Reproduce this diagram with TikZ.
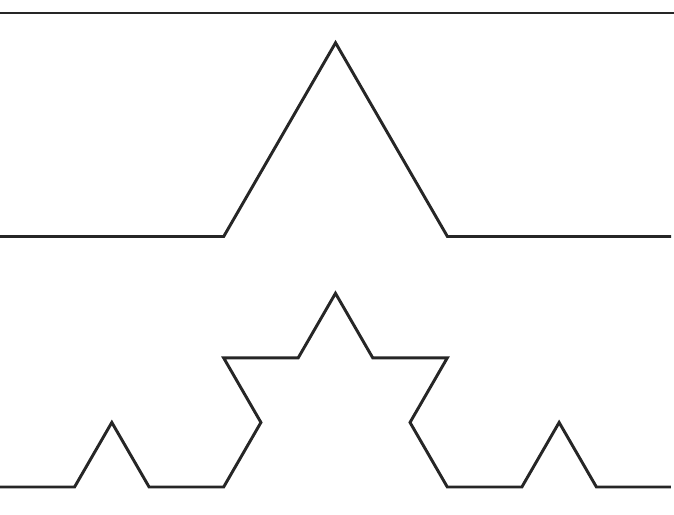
\documentclass[tikz,border=0pt]{standalone}
\usepackage{tikz}

\begin{document}
\begin{tikzpicture}[
  x=0.75pt, y=0.75pt,
  curve/.style = {line width=2.2pt, black!85, line join=miter},
]
\useasboundingbox (0,0) rectangle (674,514);

% Row y-positions
\def\yA{501}    % order 0
\def\yB{277.5}  % order 1
\def\yC{27}     % order 2

% Segment lengths
\def\sB{223.7}  % order 1 step
\def\sC{74.55}  % order 2 step

% ── ORDER 0 ─────────────────────────────────────────────
\coordinate (K0s) at (0,\yA);
\coordinate (K0e) at (674,\yA);
\draw[curve] (K0s) -- (K0e);

% ── ORDER 1 ─────────────────────────────────────────────
\coordinate (K1s) at (0,\yB);
\draw[curve] (K1s)
  \foreach \a in {0,60,-60,0} { -- ++(\a:\sB) };

% ── ORDER 2 ─────────────────────────────────────────────
\coordinate (K2s) at (0,\yC);
\draw[curve] (K2s)
  \foreach \a in {0,60,-60,0, 60,120,0,60, -60,0,-120,-60, 0,60,-60,0}
    { -- ++(\a:\sC) };

\end{tikzpicture}
\end{document}
